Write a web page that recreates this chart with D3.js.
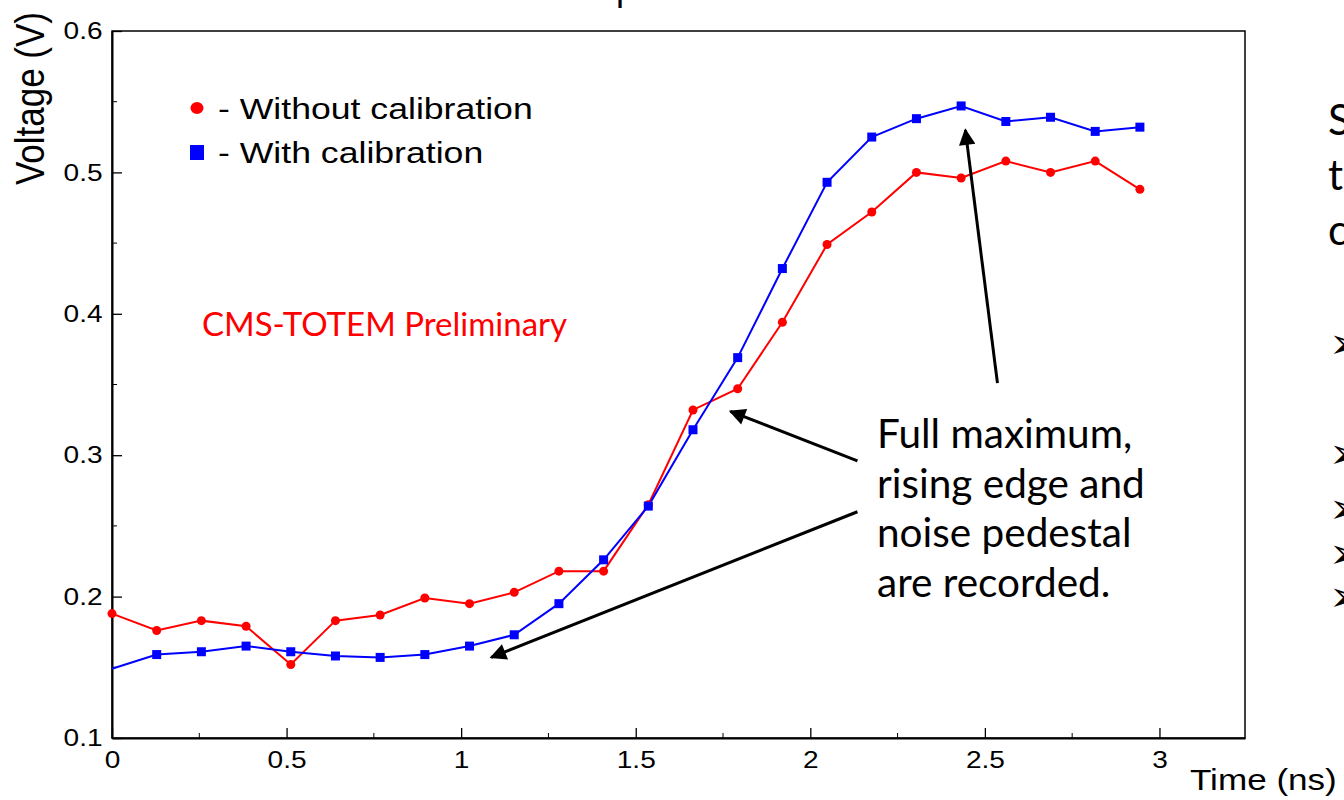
<!DOCTYPE html>
<html><head><meta charset="utf-8">
<script src="https://cdn.jsdelivr.net/npm/d3@7"></script>
<style>html,body{margin:0;padding:0;background:#fff;overflow:hidden}</style>
</head><body>
<script>
const times = [0,0.128,0.256,0.384,0.512,0.64,0.768,0.896,1.024,1.152,1.28,1.408,1.536,1.664,1.792,1.92,2.048,2.176,2.304,2.432,2.56,2.688,2.816,2.944];
const withoutCal = [0.188,0.176,0.183,0.179,0.152,0.183,0.187,0.199,0.195,0.203,0.218,0.218,0.265,0.332,0.347,0.394,0.449,0.472,0.500,0.496,0.508,0.500,0.508,0.488];
const withCal = [0.149,0.159,0.161,0.165,0.161,0.158,0.157,0.159,0.165,0.173,0.195,0.226,0.264,0.318,0.369,0.432,0.493,0.525,0.538,0.547,0.536,0.539,0.529,0.532];
const xTicks = [0,0.5,1,1.5,2,2.5,3];
const xTickLabels = ["0","0.5","1","1.5","2","2.5","3"];
const yTicks = [0.1,0.2,0.3,0.4,0.5,0.6];
const yTickLabels = ["0.1","0.2","0.3","0.4","0.5","0.6"];
const legendLabels = ["- Without calibration","- With calibration"];
const annotationLines = ["Full maximum,","rising edge and","noise pedestal","are recorded."];
// arrows in data coordinates: [tailT, tailV, tipT, tipV]
const arrows = [[2.536,0.351,2.444,0.530],[2.135,0.296,1.771,0.331],[2.135,0.260,1.086,0.157]];
const sideLetters=["S","t","c"];

const W=1344,H=800;
const svg=d3.select("body").append("svg").attr("width",W).attr("height",H);
const x=d3.scaleLinear().domain([0,3.245]).range([112,1245]);
const y=d3.scaleLinear().domain([0.1,0.6]).range([738,31]);
const AR="'Liberation Sans', Arial, sans-serif";
const CAL="Lato, 'Open Sans', sans-serif";
const SX=1.17; // horizontal stretch of the chart's own text

// partial title descender at top
svg.append("text").attr("x",616).attr("y",0).attr("font-family",AR).attr("font-size",36).text("p");

// frame
svg.append("rect").attr("x",112).attr("y",31).attr("width",1133).attr("height",707)
  .attr("fill","none").attr("stroke","#000").attr("stroke-width",1.5);

// x axis
const xAxis=d3.axisBottom(x).tickValues(xTicks).tickFormat((d,i)=>xTickLabels[i]).tickSizeInner(-10).tickSizeOuter(0).tickPadding(13);
const gx=svg.append("g").attr("transform","translate(0,738)").call(xAxis);
gx.select(".domain").attr("stroke-width",2);
gx.selectAll(".tick line").attr("stroke-width",1.3);
gx.selectAll("text").attr("font-family",AR).attr("font-size",24).attr("fill","#000").attr("transform",`scale(${SX},1)`);
const xMinor=[0.25,0.75,1.25,1.75,2.25,2.75];
svg.append("g").selectAll("line").data(xMinor).join("line")
  .attr("x1",d=>x(d)).attr("x2",d=>x(d)).attr("y1",738).attr("y2",733).attr("stroke","#000").attr("stroke-width",1);

// y axis
const yAxis=d3.axisLeft(y).tickValues(yTicks).tickFormat((d,i)=>yTickLabels[i]).tickSizeInner(-10).tickSizeOuter(0).tickPadding(-4);
const gy=svg.append("g").attr("transform","translate(112,0)").call(yAxis);
gy.select(".domain").attr("stroke-width",2);
gy.selectAll(".tick line").attr("stroke-width",1.3);
gy.selectAll("text").attr("font-family",AR).attr("font-size",24).attr("fill","#000").attr("x",-8).attr("transform",`scale(${SX},1)`);
const yMinor=[0.15,0.25,0.35,0.45,0.55];
svg.append("g").selectAll("line").data(yMinor).join("line")
  .attr("x1",112).attr("x2",117).attr("y1",d=>y(d)).attr("y2",d=>y(d)).attr("stroke","#000").attr("stroke-width",1);

// axis titles
svg.append("g").attr("transform",`translate(44,12) scale(${SX},1) rotate(-90)`)
  .append("text").attr("text-anchor","end").attr("font-family",AR).attr("font-size",35).text("Voltage (V)");
svg.append("g").attr("transform",`translate(1190,790) scale(${SX},1)`)
  .append("text").attr("font-family",AR).attr("font-size",30).text("Time (ns)");

// series
const line=d3.line().x((d,i)=>x(times[i])).y(d=>y(d));
svg.append("path").datum(withoutCal).attr("d",line).attr("fill","none").attr("stroke","#ff0000").attr("stroke-width",2);
svg.append("path").datum(withCal).attr("d",line).attr("fill","none").attr("stroke","#0000ff").attr("stroke-width",2);
svg.append("g").selectAll("circle").data(withoutCal).join("circle")
  .attr("cx",(d,i)=>x(times[i])).attr("cy",d=>y(d)).attr("r",4.5).attr("fill","#ff0000");
svg.append("g").selectAll("rect").data(withCal.slice(1)).join("rect")
  .attr("x",(d,i)=>x(times[i+1])-4.5).attr("y",d=>y(d)-4.5).attr("width",9).attr("height",9).attr("fill","#0000ff");

// legend
svg.append("ellipse").attr("cx",197).attr("cy",108).attr("rx",6.5).attr("ry",6).attr("fill","#ff0000");
svg.append("rect").attr("x",190).attr("y",145).attr("width",14).attr("height",15).attr("fill","#0000ff");
svg.append("g").selectAll("g").data(legendLabels).join("g")
  .attr("transform",(d,i)=>`translate(218,${119+i*44}) scale(${SX*1.05},1)`)
  .append("text").attr("font-family",AR).attr("font-size",29).text(d=>d);

// preliminary label
svg.append("text").attr("x",202).attr("y",336).attr("font-family",CAL).attr("font-size",33).attr("fill","#ff0000").text("CMS-TOTEM Preliminary");

// annotation text
svg.append("g").selectAll("text").data(annotationLines).join("text")
  .attr("x",877).attr("y",(d,i)=>448+i*49.5).attr("font-family",CAL).attr("font-size",40.5).attr("fill","#000").text(d=>d);

// arrows
const defs=svg.append("defs");
defs.append("marker").attr("id","ah").attr("viewBox","0 0 10 10").attr("refX",9).attr("refY",5)
  .attr("markerWidth",8).attr("markerHeight",5.5).attr("markerUnits","strokeWidth").attr("orient","auto")
  .append("path").attr("d","M0,0L10,5L0,10z").attr("fill","#000");
svg.append("g").selectAll("line").data(arrows).join("line")
  .attr("x1",d=>x(d[0])).attr("y1",d=>y(d[1])).attr("x2",d=>x(d[2])).attr("y2",d=>y(d[3]))
  .attr("stroke","#000").attr("stroke-width",3).attr("marker-end","url(#ah)");

// cut-off slide text at right
svg.append("g").selectAll("text").data(sideLetters).join("text")
  .attr("x",1328).attr("y",(d,i)=>135+i*55).attr("font-family",CAL).attr("font-size",42).text(d=>d);
const bulletsY=[345,455,510,555,598];
svg.append("g").selectAll("text").data(bulletsY).join("text")
  .attr("x",1329).attr("y",d=>d+13).attr("font-family","'DejaVu Sans'").attr("font-size",42).text("➢");
</script>
</body></html>
